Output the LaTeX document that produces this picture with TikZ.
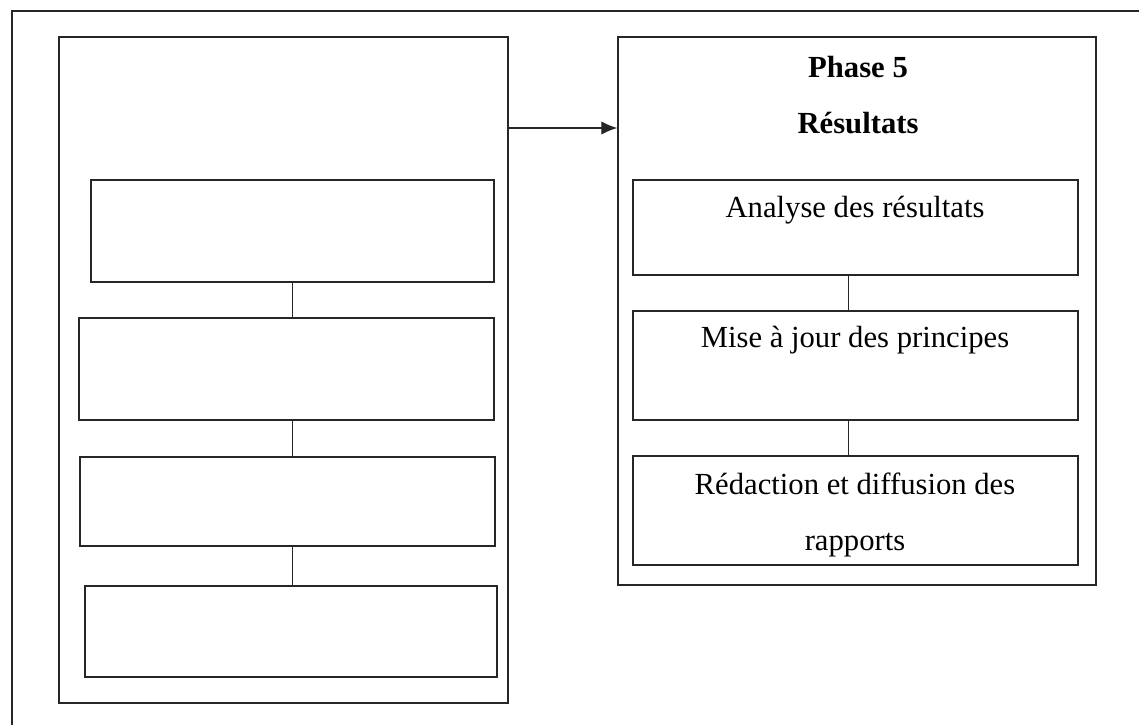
\documentclass[tikz,border=0pt]{standalone}
\usepackage{fontspec}
\setmainfont{Liberation Serif}
\usepackage{tikz}
\usetikzlibrary{positioning,arrows.meta}
\tikzstyle{frame} = [draw=black!85, line width=1pt]
\tikzstyle{phase} = [draw=black!85, line width=1pt, inner sep=0pt]
\tikzstyle{task} = [draw=black!85, line width=1pt, inner sep=0pt]
\tikzstyle{link} = [draw=black!85, line width=0.9pt]

\begin{document}
\begin{tikzpicture}[x=0.75pt, y=-0.75pt, font=\fontsize{23}{42}\selectfont]
				\useasboundingbox (0,0) rectangle (1139,725);
				\draw[frame] (12,725) -- (12,11) -- (1139,11);
				% left phase
				\node[phase, minimum width=336.75pt, minimum height=499.5pt] (l0) at (283.5,370) {};
				\node[task, minimum width=302.25pt, minimum height=76.5pt] (l1) at (292.5,231) {};
				\node[task, minimum width=311.25pt, minimum height=76.5pt] (l2) at (286.5,369) {};
				\node[task, minimum width=311.25pt, minimum height=66.75pt] (l3) at (287.5,501.5) {};
				\node[task, minimum width=309pt, minimum height=68.25pt] (l4) at (291,631.5) {};
				\draw[link] (l1.south) -- (l1.south |- l2.north);
				\draw[link] (l2.south -| l1.south) -- (l3.north -| l1.south);
				\draw[link] (l3.south -| l1.south) -- (l4.north -| l1.south);
				% right phase
				\node[phase, minimum width=358.5pt, minimum height=411pt] (r0) at (857,311) {};
				\node[align=center, font=\fontsize{23}{42}\selectfont\bfseries] (title) at (858,95) {Phase 5\\Résultats};
				\node[task, minimum width=333.75pt, minimum height=71.25pt] (r1) at (855.5,227.5) {};
				\node[task, minimum width=333.75pt, minimum height=81.75pt] (r2) at (855.5,365.5) {};
				\node[task, minimum width=333.75pt, minimum height=81.75pt] (r3) at (855.5,510.5) {};
				\node (t1) at (855,210) {Analyse des résultats};
				\node (t2) at (855,340) {Mise à jour des principes};
				\node[align=center] (t3) at (855,515) {Rédaction et diffusion des\\rapports};
				\draw[link] ([xshift=-5pt]r1.south) -- ([xshift=-5pt]r1.south |- r2.north);
				\draw[link] ([xshift=-5pt]r2.south) -- ([xshift=-5pt]r2.south |- r3.north);
				\draw[link, -{Latex[length=12pt,width=10pt]}] (l0.east |- 0,128) -- (r0.west |- 0,128);
		\end{tikzpicture}
\end{document}
